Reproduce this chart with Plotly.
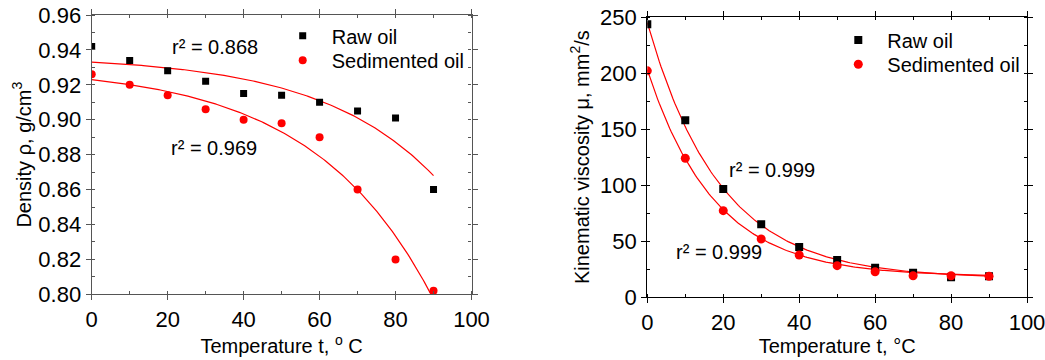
import numpy as np
import plotly.graph_objects as go

# ---- data ----
temp = [0, 10, 20, 30, 40, 50, 60, 70, 80, 90]
density_raw = [0.942, 0.934, 0.928, 0.922, 0.915, 0.914, 0.910, 0.905, 0.901, 0.860]
density_sed = [0.926, 0.920, 0.914, 0.906, 0.900, 0.898, 0.890, 0.860, 0.820, 0.802]
visc_raw = [243.5, 158, 96.6, 65.1, 44.9, 33.3, 26.4, 21.9, 17.8, 18.8]
visc_sed = [202, 124, 77.3, 52, 37.7, 28.2, 22.8, 19.2, 19.2, 18.8]

# fit parameters
dens_raw_fit = dict(A=0.93655, B=0.00355, tau=30.4)
dens_sed_fit = dict(A=0.93074, B=0.00774, tau=31.6)
visc_raw_fit = dict(y0=16.8, A=228.2, tau=19.13)
visc_sed_fit = dict(y0=18.5, A=184.5, tau=17.7)

r2_labels_left = ["r² = 0.868", "r² = 0.969"]
r2_labels_right = ["r² = 0.999", "r² = 0.999"]

FONT = "Liberation Sans, Arial, sans-serif"
FS = 20
TFS = 22

xf = np.linspace(0, 90, 200)
def dens_curve(p):
    return p["A"] - p["B"] * np.exp(xf / p["tau"])
def visc_curve(p):
    return p["y0"] + p["A"] * np.exp(-xf / p["tau"])

fig = go.Figure()
RED = "#ff0000"
# left panel
fig.add_trace(go.Scatter(x=xf, y=dens_curve(dens_raw_fit), mode="lines",
                         line=dict(color=RED, width=1.2), showlegend=False,
                         xaxis="x", yaxis="y"))
fig.add_trace(go.Scatter(x=xf, y=dens_curve(dens_sed_fit), mode="lines",
                         line=dict(color=RED, width=1.2), showlegend=False,
                         xaxis="x", yaxis="y"))
fig.add_trace(go.Scatter(x=temp, y=density_raw, mode="markers", name="Raw oil",
                         marker=dict(symbol="square", size=7, color="black"),
                         xaxis="x", yaxis="y", legend="legend"))
fig.add_trace(go.Scatter(x=temp, y=density_sed, mode="markers", name="Sedimented oil",
                         marker=dict(symbol="circle", size=8, color=RED),
                         xaxis="x", yaxis="y", legend="legend2"))
# right panel
fig.add_trace(go.Scatter(x=xf, y=visc_curve(visc_raw_fit), mode="lines",
                         line=dict(color=RED, width=1.2), showlegend=False,
                         xaxis="x2", yaxis="y2"))
fig.add_trace(go.Scatter(x=xf, y=visc_curve(visc_sed_fit), mode="lines",
                         line=dict(color=RED, width=1.2), showlegend=False,
                         xaxis="x2", yaxis="y2"))
fig.add_trace(go.Scatter(x=temp, y=visc_raw, mode="markers", name="Raw oil",
                         marker=dict(symbol="square", size=8, color="black"),
                         xaxis="x2", yaxis="y2", legend="legend3"))
fig.add_trace(go.Scatter(x=temp, y=visc_sed, mode="markers", name="Sedimented oil",
                         marker=dict(symbol="circle", size=9, color=RED),
                         xaxis="x2", yaxis="y2", legend="legend4"))

W, H = 1045, 360
def dom(a, b, total):
    return [a / total, b / total]

def axis_common(color):
    return dict(showline=True, linecolor=color, linewidth=1.3, mirror="ticks",
                ticks="outside", ticklen=5, tickcolor=color, tickwidth=1.2,
                showgrid=False, zeroline=False, automargin=False,
                ticklabeloverflow="allow",
                tickfont=dict(family=FONT, size=TFS, color="black"),
                minor=dict(ticks="inside", ticklen=3, tickcolor=color, showgrid=False))

GRAY = "#555555"
xa = axis_common(GRAY)
xa.update(domain=dom(91.7, 471.5, W), range=[0, 100], dtick=20, anchor="y",
          title=dict(text="Temperature t, <sup>o</sup> C", font=dict(family=FONT, size=FS),
                     standoff=5))
xa["minor"]["dtick"] = 10
ya = axis_common(GRAY)
ya.update(domain=[1 - 294.3 / H, 1 - 15 / H], range=[0.80, 0.96], dtick=0.02,
          tickformat=".2f", anchor="x",
          title=dict(text="Density ρ, g/cm<sup>3</sup>", font=dict(family=FONT, size=FS),
                     standoff=1))
ya["minor"]["dtick"] = 0.01

xa2 = axis_common("black")
xa2.update(domain=dom(647.3, 1027, W), range=[0, 100], dtick=20, anchor="y2",
           title=dict(text="Temperature t, °C", font=dict(family=FONT, size=FS),
                      standoff=5))
xa2["minor"]["dtick"] = 10
ya2 = axis_common("black")
ya2.update(domain=[1 - 297.3 / H, 1 - 17 / H], range=[0, 250], dtick=50, anchor="x2",
           title=dict(text="Kinematic viscosity μ, mm<sup>2</sup>/s",
                      font=dict(family=FONT, size=FS), standoff=5))
ya2["minor"]["dtick"] = 25

annos = [
    dict(x=20.6, y=0.9415, xref="x", yref="y", text=r2_labels_left[0]),
    dict(x=20.3, y=0.8836, xref="x", yref="y", text=r2_labels_left[1]),
    dict(x=20.9, y=113.5, xref="x2", yref="y2", text=r2_labels_right[0]),
    dict(x=7.0, y=40.7, xref="x2", yref="y2", text=r2_labels_right[1]),
]
for a in annos:
    a.update(showarrow=False, xanchor="left", yanchor="middle",
             font=dict(family=FONT, size=FS, color="black"))

def leg(mx, my):
    return dict(font=dict(family=FONT, size=FS, color="black"),
                bgcolor="rgba(0,0,0,0)", borderwidth=0, xanchor="left",
                yanchor="middle", itemwidth=48,
                x=(mx - 29) / W, y=1 - my / H)

fig.update_layout(
    width=W, height=H, margin=dict(l=0, r=0, t=0, b=0),
    paper_bgcolor="white", plot_bgcolor="white",
    font=dict(family=FONT, size=FS, color="black"),
    xaxis=xa, yaxis=ya, xaxis2=xa2, yaxis2=ya2,
    annotations=annos,
    legend=leg(302.7, 35.7),
    legend2=leg(302.7, 60.3),
    legend3=leg(858.3, 40),
    legend4=leg(858.3, 64.3),
)

fig.write_html("out.html")
